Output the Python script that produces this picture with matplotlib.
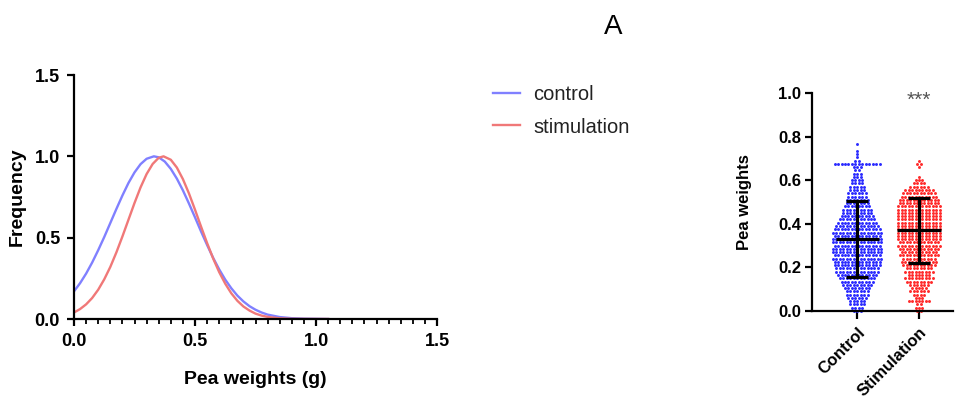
import numpy as np
import matplotlib
matplotlib.use("Agg")
import matplotlib.pyplot as plt

plt.rcParams['font.family'] = ['Liberation Sans', 'DejaVu Sans']

# ---------------- data: frequency curves ----------------
curve_x_control = [0.0, 0.025, 0.05, 0.075, 0.10, 0.125, 0.15, 0.175, 0.20, 0.225, 0.25, 0.275,
                   0.30, 0.33, 0.35, 0.375, 0.40, 0.425, 0.45, 0.475, 0.50, 0.525, 0.55, 0.575,
                   0.60, 0.625, 0.65, 0.675, 0.70, 0.725, 0.75, 0.775, 0.80, 0.85, 0.90, 0.95,
                   1.0, 1.05]
curve_y_control = [0.17, 0.220, 0.279, 0.347, 0.423, 0.504, 0.590, 0.676, 0.759, 0.836, 0.901, 0.952,
                   0.985, 1.000, 0.994, 0.968, 0.923, 0.863, 0.791, 0.710, 0.625, 0.538, 0.455, 0.376,
                   0.305, 0.242, 0.189, 0.144, 0.108, 0.079, 0.057, 0.040, 0.027, 0.012, 0.005, 0.002,
                   0.001, 0.0]

curve_x_stim = [0.0, 0.025, 0.05, 0.075, 0.10, 0.125, 0.15, 0.175, 0.20, 0.225, 0.25, 0.275,
                0.30, 0.325, 0.35, 0.37, 0.40, 0.425, 0.45, 0.475, 0.50, 0.525, 0.55, 0.575,
                0.60, 0.625, 0.65, 0.675, 0.70, 0.725, 0.75, 0.775, 0.80, 0.85, 0.90, 0.95,
                1.0, 1.05]
curve_y_stim = [0.040, 0.061, 0.090, 0.129, 0.180, 0.244, 0.320, 0.409, 0.507, 0.610, 0.713, 0.809,
                0.891, 0.953, 0.991, 1.000, 0.979, 0.931, 0.860, 0.772, 0.672, 0.568, 0.467, 0.372,
                0.288, 0.217, 0.158, 0.112, 0.077, 0.052, 0.033, 0.021, 0.013, 0.004, 0.001, 0.0004,
                0.0001, 0.0]

series_labels = ["control", "stimulation"]
curve_ticks = [0.0, 0.5, 1.0, 1.5]
curve_ticklabels = ["0.0", "0.5", "1.0", "1.5"]

# ---------------- data: scatter dot plot (value levels and counts) ----------------
categories = ["Control", "Stimulation"]

control_levels = [0.000, 0.015, 0.030, 0.045, 0.060, 0.075, 0.090, 0.105, 0.120, 0.135,
                  0.150, 0.165, 0.180, 0.195, 0.210, 0.225, 0.240, 0.255, 0.270, 0.285,
                  0.300, 0.315, 0.330, 0.345, 0.360, 0.375, 0.390, 0.405, 0.420, 0.435,
                  0.450, 0.465, 0.480, 0.495, 0.510, 0.525, 0.540, 0.555, 0.570, 0.585,
                  0.600, 0.615, 0.630, 0.645, 0.660, 0.675, 0.690, 0.705, 0.720, 0.735,
                  0.765]
control_counts = [3, 4, 5, 5, 6, 7, 7, 8, 9, 10,
                  11, 12, 13, 13, 14, 14, 15, 14, 15, 15,
                  14, 15, 15, 14, 15, 14, 13, 12, 11, 10,
                  9, 9, 8, 7, 7, 6, 6, 5, 5, 4,
                  4, 3, 3, 2, 3, 14, 2, 1, 1, 1,
                  1]

stim_levels = [0.000, 0.015, 0.030, 0.045, 0.060, 0.075, 0.090, 0.105, 0.120, 0.135,
               0.150, 0.165, 0.180, 0.195, 0.210, 0.225, 0.240, 0.255, 0.270, 0.285,
               0.300, 0.315, 0.330, 0.345, 0.360, 0.375, 0.390, 0.405, 0.420, 0.435,
               0.450, 0.465, 0.480, 0.495, 0.510, 0.525, 0.540, 0.555, 0.570, 0.585,
               0.600, 0.615, 0.660, 0.675, 0.690]
stim_counts = [2, 3, 2, 7, 3, 4, 6, 5, 6, 8,
               9, 7, 9, 8, 10, 11, 10, 12, 11, 12,
               13, 12, 13, 13, 13, 13, 13, 13, 13, 13,
               13, 13, 13, 12, 12, 11, 10, 9, 6, 4,
               3, 1, 1, 2, 1]

group_mean = [0.33, 0.37]
group_sd = [0.175, 0.15]
significance = "***"
dot_ticks = [0.0, 0.2, 0.4, 0.6, 0.8, 1.0]
dot_ticklabels = ["0.0", "0.2", "0.4", "0.6", "0.8", "1.0"]

# ---------------- figure ----------------
fig = plt.figure(figsize=(9.55, 4.01), dpi=100)

# Left: frequency curves
ax1 = fig.add_axes([74 / 955, 82 / 401, 363 / 955, 244 / 401])
l1, = ax1.plot(curve_x_control, curve_y_control, color='#8080ff', lw=1.7, label=series_labels[0])
l2, = ax1.plot(curve_x_stim, curve_y_stim, color='#f07878', lw=1.7, label=series_labels[1])
ax1.set_xlim(0, 1.5)
ax1.set_ylim(0, 1.5)
ax1.set_xticks(curve_ticks)
ax1.set_xticklabels(curve_ticklabels, fontsize=13, fontweight='bold')
ax1.set_xticks(np.arange(0, 1.5001, 0.05), minor=True)
ax1.set_yticks(curve_ticks)
ax1.set_yticklabels(curve_ticklabels, fontsize=13, fontweight='bold')
for s in ['top', 'right']:
    ax1.spines[s].set_visible(False)
for s in ['left', 'bottom']:
    ax1.spines[s].set_linewidth(1.6)
ax1.tick_params(which='major', length=5, width=1.6, pad=5)
ax1.tick_params(which='minor', length=3.5, width=1.3)
ax1.set_xlabel('Pea weights (g)', fontsize=14, fontweight='bold')
ax1.set_ylabel('Frequency', fontsize=14, fontweight='bold')
ax1.xaxis.set_label_coords(0.5, -0.215)
ax1.yaxis.set_label_coords(-0.132, 0.5)

fig.legend(handles=[l1, l2], labels=series_labels, loc='upper left',
           bbox_to_anchor=(493 / 955, 0.787), frameon=False, fontsize=14.5,
           handlelength=1.35, handletextpad=0.65, labelspacing=0.65,
           borderpad=0, borderaxespad=0, labelcolor='#222222')

fig.text(613 / 955, 1 - 27 / 401, 'A', fontsize=20, ha='center', va='center')

# Right: scatter dot plot
ax2 = fig.add_axes([812 / 955, 90 / 401, 141 / 955, 218 / 401])
colors = ['#2a2aff', '#ff2a2a']
dx = 0.056
for i, (levels, counts) in enumerate([(control_levels, control_counts),
                                      (stim_levels, stim_counts)]):
    xs, ys = [], []
    for v, n in zip(levels, counts):
        offs = (np.arange(n) - (n - 1) / 2.0) * dx
        xs.extend(i + offs)
        ys.extend([v] * n)
    ax2.scatter(xs, ys, s=4.5, color=colors[i], linewidths=0, zorder=2, clip_on=False)
    m, sd = group_mean[i], group_sd[i]
    ax2.plot([i - 0.35, i + 0.35], [m, m], color='black', lw=2.3, zorder=3, solid_capstyle='butt')
    ax2.plot([i, i], [m - sd, m + sd], color='black', lw=2.3, zorder=3)
    ax2.plot([i - 0.18, i + 0.18], [m + sd, m + sd], color='black', lw=2.3, zorder=3, solid_capstyle='butt')
    ax2.plot([i - 0.18, i + 0.18], [m - sd, m - sd], color='black', lw=2.3, zorder=3, solid_capstyle='butt')

ax2.text(1, 0.965, significance, ha='center', va='center', fontsize=15, color='#555555')
ax2.set_xlim(-0.73, 1.55)
ax2.set_ylim(0, 1.0)
ax2.set_xticks([0, 1])
ax2.set_xticklabels(categories, rotation=45, ha='right', va='top', rotation_mode='anchor',
                    fontsize=12, fontweight='bold')
ax2.set_yticks(dot_ticks)
ax2.set_yticklabels(dot_ticklabels, fontsize=12, fontweight='bold')
for s in ['top', 'right']:
    ax2.spines[s].set_visible(False)
for s in ['left', 'bottom']:
    ax2.spines[s].set_linewidth(1.6)
ax2.tick_params(axis='y', length=5, width=1.6, pad=3)
ax2.tick_params(axis='x', length=6, width=1.6, pad=4)
ax2.set_ylabel('Pea weights', fontsize=12, fontweight='bold')
ax2.yaxis.set_label_coords(-0.425, 0.5)

fig.savefig('out.png', dpi=100)
